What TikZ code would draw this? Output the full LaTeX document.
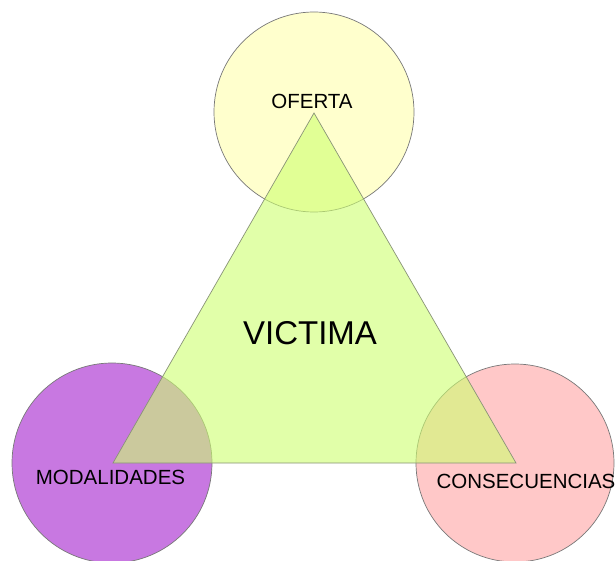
\documentclass[tikz,border=0pt]{standalone}
\usepackage{fontspec}
\setmainfont{Liberation Sans}
\definecolor{cyellow}{RGB}{255,255,205}
\definecolor{cpurple}{RGB}{200,120,225}
\definecolor{cpink}{RGB}{255,200,200}
\definecolor{tgreen}{RGB}{205,255,113}
\definecolor{edgegray}{RGB}{120,120,120}
\begin{document}
\begin{tikzpicture}[x=1pt,y=-1pt,
  circ/.style={draw=edgegray,line width=0.7pt},
  lab/.style={font=\fontsize{20.5}{24}\selectfont,inner sep=0pt,text=black}]
\useasboundingbox (0,0) rectangle (616,561);
\fill[white] (0,0) rectangle (616,561);
\coordinate (A) at (314,113);
\coordinate (B) at (113,463);
\coordinate (C) at (516,463);
\draw[circ,fill=cyellow] (314,112) circle[radius=100];
\draw[circ,fill=cpurple] (112,463) circle[radius=100];
\draw[circ,fill=cpink] (515,463) circle[radius=99];
\draw[draw=edgegray!80!tgreen,line width=0.7pt,fill=tgreen,fill opacity=0.6] (A) -- (B) -- (C) -- cycle;
\node[lab] (oferta) at (312,101) {OFERTA};
\node[lab] (modal) at (110.5,477) {MODALIDADES};
\node[lab] (conse) at (526,481) {CONSECUENCIAS};
\node[lab,font=\fontsize{33}{38}\selectfont] (victima) at (310,333) {VICTIMA};
\end{tikzpicture}
\end{document}
